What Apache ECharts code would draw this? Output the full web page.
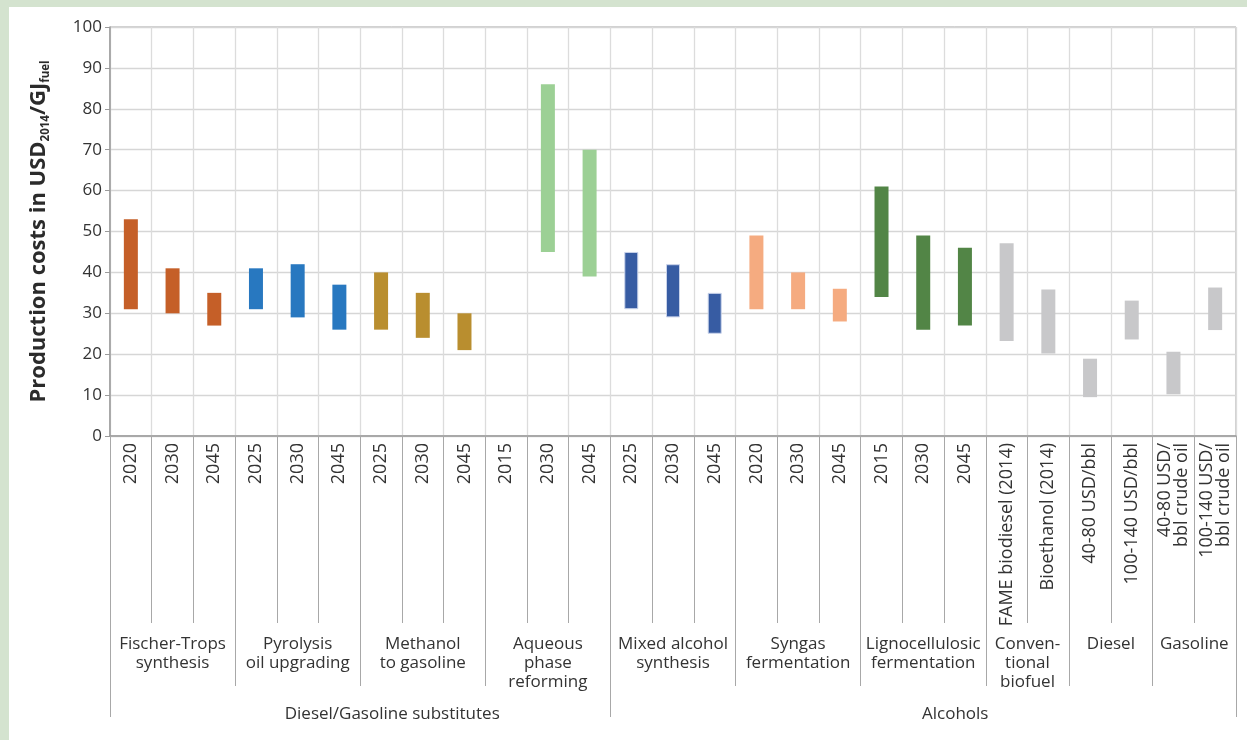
<!DOCTYPE html>
<html>
<head>
<meta charset="utf-8">
<script src="https://cdn.jsdelivr.net/npm/echarts@6/dist/echarts.min.js"></script>
<style>
  html, body { margin: 0; padding: 0; background: #D4E3CF; width: 1247px; height: 740px; overflow: hidden; }
  #chart { position: absolute; left: 9px; top: 7px; width: 1238px; height: 733px; background: #ffffff; }
</style>
</head>
<body>
<div id="chart"></div>
<script>
// ---- data ----
const categories = ['2020','2030','2045','2025','2030','2045','2025','2030','2045','2015','2030','2045',
  '2025','2030','2045','2020','2030','2045','2015','2030','2045',
  'FAME biodiesel (2014)','Bioethanol (2014)','40-80 USD/bbl','100-140 USD/bbl',
  '40-80 USD/\nbbl crude oil','100-140 USD/\nbbl crude oil'];
const lows  = [31,30,27, 31,29,26, 26,24,21, null,45,39, 31,29,25, 31,31,28, 34,26,27, 23.2,20.2, 9.5,23.6, 10.2,25.9];
const highs = [53,41,35, 41,42,37, 40,35,30, null,86,70, 45,42,35, 49,40,36, 61,49,46, 47.1,35.8, 18.9,33.1, 20.6,36.3];
const groupNames = ['Fischer-Trops\nsynthesis','Pyrolysis\noil upgrading','Methanol\nto gasoline','Aqueous\nphase\nreforming',
  'Mixed alcohol\nsynthesis','Syngas\nfermentation','Lignocellulosic\nfermentation','Conven-\ntional\nbiofuel','Diesel','Gasoline'];
const groupSizes = [3,3,3,3,3,3,3,2,2,2];
const groupColors = ['#C55F28','#2878C0','#B98E2F','#9CD095','#375CA3','#F5AB80','#528546','#C8C8CA','#C8C8CA','#C8C8CA'];
const topNames = ['Diesel/Gasoline substitutes','Alcohols'];
const topSizes = [12, 15];
const yTicks = { min: 0, max: 100, interval: 10 };

// ---- derived ----
const FONT = 'Open Sans';
const catGroup = [];
groupSizes.forEach((n, g) => { for (let i = 0; i < n; i++) catGroup.push(g); });
const groupStarts = []; { let s = 0; groupSizes.forEach(n => { groupStarts.push(s); s += n; }); }
const topStarts = []; { let s = 0; topSizes.forEach(n => { topStarts.push(s); s += n; }); }
const ranges = highs.map((h, i) => (h == null || lows[i] == null) ? null : +(h - lows[i]).toFixed(2));

const chart = echarts.init(document.getElementById('chart'), null, { renderer: 'canvas' });

const baseX = {
  type: 'category', data: categories, position: 'bottom', boundaryGap: true,
  axisLine: { show: false }, axisLabel: { show: false }, splitLine: { show: false }
};

chart.setOption({
  animation: false,
  textStyle: { fontFamily: FONT },
  grid: { left: 101, right: 11, top: 20, bottom: 304, show: true, borderColor: '#a3a3a3', borderWidth: 1, backgroundColor: '#fff' },
  xAxis: [
    {
      type: 'category', data: categories, position: 'bottom', boundaryGap: true,
      axisLine: { show: true, lineStyle: { color: '#9b9b9b', width: 1.5 } },
      axisTick: { show: true, interval: 0, length: 187, lineStyle: { color: '#a8a8a8' } },
      axisLabel: { interval: 0, rotate: 90, margin: 7, fontSize: 18, color: '#333', fontFamily: FONT, lineHeight: 17 },
      splitLine: { show: true, interval: 0, lineStyle: { color: '#dcdcdc', width: 1.3 } }
    },
    Object.assign({}, baseX, {
      axisTick: { show: true, length: 250, lineStyle: { color: '#a8a8a8' },
        interval: (idx) => groupStarts.indexOf(idx) >= 0 }
    }),
    Object.assign({}, baseX, {
      axisTick: { show: true, length: 281, lineStyle: { color: '#a8a8a8' },
        interval: (idx) => topStarts.indexOf(idx) >= 0 }
    })
  ],
  yAxis: [{
    type: 'value', min: yTicks.min, max: yTicks.max, interval: yTicks.interval,
    axisLine: { show: true, lineStyle: { color: '#9b9b9b', width: 1.5 } },
    axisTick: { show: true, length: 5, lineStyle: { color: '#9b9b9b' } },
    axisLabel: { fontSize: 17, color: '#333', margin: 8, fontFamily: FONT },
    splitLine: { show: true, lineStyle: { color: '#d6d6d6', width: 1.3 } },
    name: '{b|Production costs in USD}{s|2014}{b|/GJ}{s|fuel}',
    nameLocation: 'middle', nameRotate: 90, nameGap: 60,
    nameTextStyle: {
      rich: {
        b: { fontSize: 22, fontWeight: 'bold', color: '#2b2b2b', fontFamily: FONT },
        s: { fontSize: 11.5, fontWeight: 'bold', color: '#2b2b2b', fontFamily: FONT, verticalAlign: 'bottom', padding: [0, 0, -2, 0] }
      }
    }
  }],
  series: [
    {
      type: 'bar', stack: 'r', xAxisIndex: 0, barWidth: 14, silent: true,
      itemStyle: { color: 'rgba(0,0,0,0)' },
      data: lows
    },
    {
      type: 'bar', stack: 'r', xAxisIndex: 0, barWidth: 14,
      data: ranges.map((v, i) => ({
        value: v,
        itemStyle: {
          color: groupColors[catGroup[i]],
          borderColor: catGroup[i] === 4 ? '#c9d3ea' : groupColors[catGroup[i]],
          borderWidth: catGroup[i] === 4 ? 1 : 0
        }
      }))
    }
  ]
});

// ---- hierarchical labels placed through the axis scale ----
const px = i => chart.convertToPixel({ xAxisIndex: 0 }, i);
const axisY = chart.convertToPixel({ yAxisIndex: 0 }, 0);
const graphics = [];
groupNames.forEach((name, g) => {
  const s = groupStarts[g], e = s + groupSizes[g] - 1;
  graphics.push({
    type: 'text', x: (px(s) + px(e)) / 2, y: axisY + 199,
    style: { text: name, fill: '#333', font: '17px "' + FONT + '"', align: 'center', verticalAlign: 'top', lineHeight: 19 }
  });
});
topNames.forEach((name, t) => {
  const s = topStarts[t], e = s + topSizes[t] - 1;
  graphics.push({
    type: 'text', x: (px(s) + px(e)) / 2 + 32, y: axisY + 269,
    style: { text: name, fill: '#333', font: '17px "' + FONT + '"', align: 'center', verticalAlign: 'top', lineHeight: 19 }
  });
});
chart.setOption({ graphic: graphics });
</script>
</body>
</html>
